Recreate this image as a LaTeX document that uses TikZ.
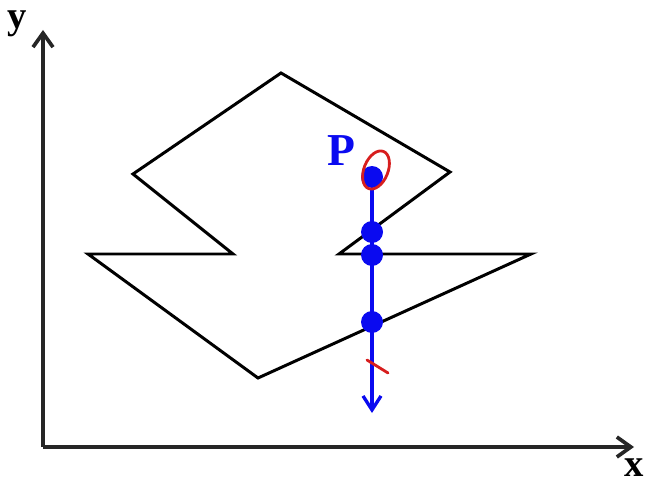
\documentclass[tikz,border=0pt]{standalone}
\usepackage{fontspec}
\setmainfont{Liberation Serif}
\usepackage{xcolor}
\usetikzlibrary{arrows.meta}
\definecolor{rayblue}{RGB}{10,10,240}
\definecolor{penred}{RGB}{215,30,30}

\begin{document}
\begin{tikzpicture}[x=0.02cm,y=-0.02cm,
  axis/.style={line width=2.1pt,black!85,-{Straight Barb[length=2.8mm,width=4mm]}},
  edge/.style={line width=1.7pt,black,line join=miter},
  ray/.style={line width=1.9pt,rayblue,-{Straight Barb[length=2.8mm,width=3.6mm]}},
  hit/.style={circle,fill=rayblue,inner sep=0pt,minimum size=0.44cm},
  pen/.style={line width=1.6pt,penred,line cap=round},
  lbl/.style={font=\fontsize{22}{22}\selectfont\bfseries}]
\useasboundingbox (0,0) rectangle (655,496);
\coordinate (o) at (43,447);
\coordinate (ytop) at (43,30);
\coordinate (xend) at (634,447);
\draw[axis] (o) -- (ytop);
\draw[axis] (o) -- (xend);
\node[lbl] (ylbl) at (17,24) {y};
\node[lbl] (xlbl) at (634,468) {x};
\draw[edge] (281,73) -- (450,172) -- (339,254) -- (531,254) -- (258,378)
  -- (88,254) -- (233,254) -- (133,174) -- cycle;
\node[hit] (p) at (372,177) {};
\foreach \n/\y in {h1/232,h2/255,h3/322}{
  \node[hit] (\n) at (372,\y) {};}
\coordinate (rayend) at (372,413);
\draw[ray] (p) -- (rayend);
\node[lbl,text=rayblue,font=\fontsize{26}{26}\selectfont\bfseries] (plbl) at (341,151) {P};
\draw[pen,rotate around={-22:(376,170)}] (376,170) ellipse (12 and 20);
\draw[pen] (367,360) -- (388,373);
\end{tikzpicture}
\end{document}
